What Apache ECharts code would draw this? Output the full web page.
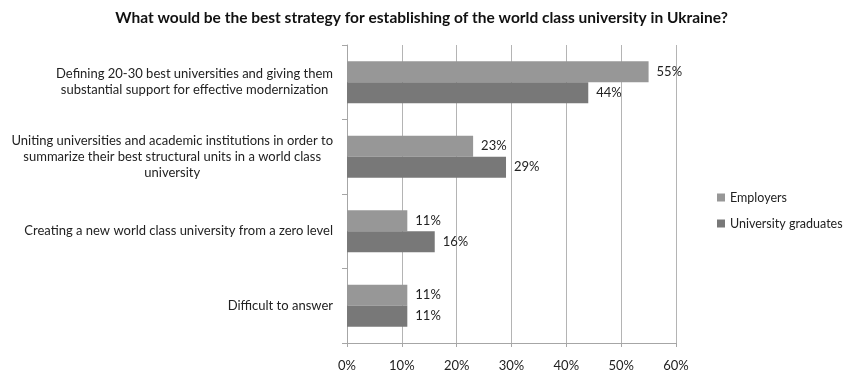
<!DOCTYPE html>
<html>
<head>
<meta charset="utf-8">
<script src="https://cdn.jsdelivr.net/npm/echarts@6/dist/echarts.min.js"></script>
<style>
  html, body { margin: 0; padding: 0; background: #fff; }
  #chart { width: 843px; height: 378px; }
</style>
</head>
<body>
<div id="chart"></div>
<script>
// Survey answers, one entry per strategy (top to bottom)
const categories = [
  'Defining 20-30 best universities and giving them\nsubstantial support for effective modernization',
  'Uniting universities and academic institutions in order to\nsummarize their best structural units in a world class\nuniversity',
  'Creating a new world class university from a zero level',
  'Difficult to answer'
];
const employers = [55, 23, 11, 11];
const graduates = [44, 29, 16, 11];
const xTicks = { min: 0, max: 60, interval: 10 };

const FONT = 'Lato, "Open Sans", "Liberation Sans", sans-serif';

const chart = echarts.init(document.getElementById('chart'), null, { renderer: 'canvas' });

chart.setOption({
  animation: false,
  backgroundColor: '#ffffff',
  textStyle: { fontFamily: FONT },
  title: {
    text: 'What would be the best strategy for establishing of the world class university in Ukraine?',
    left: 'center',
    top: 5,
    textStyle: { fontFamily: FONT, fontSize: 15.5, fontWeight: 'bold', color: '#111' }
  },
  legend: {
    orient: 'vertical',
    left: 712,
    top: 186,
    itemWidth: 8,
    itemHeight: 8,
    itemGap: 13,
    icon: 'rect',
    textStyle: { fontFamily: FONT, fontSize: 12.5, color: '#222' },
    data: ['Employers', 'University graduates']
  },
  grid: { left: 347, right: 167, top: 45, bottom: 35, containLabel: false },
  xAxis: {
    type: 'value',
    min: xTicks.min,
    max: xTicks.max,
    interval: xTicks.interval,
    axisLine: { show: true, lineStyle: { color: '#a6a6a6', width: 1 } },
    axisTick: { show: true, length: 4, lineStyle: { color: '#a6a6a6' } },
    splitLine: { show: true, lineStyle: { color: '#b4b4b4', width: 1 } },
    axisLabel: {
      formatter: '{value}%',
      margin: 16,
      fontFamily: FONT,
      fontSize: 13,
      color: '#222'
    }
  },
  yAxis: {
    type: 'category',
    inverse: true,
    data: categories,
    axisLine: { show: true, lineStyle: { color: '#a6a6a6', width: 1 } },
    axisTick: { show: true, length: 5, lineStyle: { color: '#a6a6a6' } },
    splitLine: { show: false },
    axisLabel: {
      margin: 14,
      fontFamily: FONT,
      fontSize: 13,
      color: '#222',
      lineHeight: 16,
      formatter: function (v) {
        return v.split('\n').map(function (l) { return '{c|' + l + '}'; }).join('\n');
      },
      rich: {
        c: { align: 'center', fontFamily: FONT, fontSize: 13, color: '#222', lineHeight: 16 }
      }
    }
  },
  series: [
    {
      name: 'Employers',
      type: 'bar',
      data: employers,
      barWidth: 21,
      barGap: '0%',
      itemStyle: { color: '#979797' },
      label: {
        show: true,
        position: 'right',
        distance: 8,
        formatter: '{c}%',
        fontFamily: FONT,
        fontSize: 13,
        color: '#222'
      }
    },
    {
      name: 'University graduates',
      type: 'bar',
      data: graduates,
      barWidth: 21,
      barGap: '0%',
      itemStyle: { color: '#787878' },
      label: {
        show: true,
        position: 'right',
        distance: 8,
        formatter: '{c}%',
        fontFamily: FONT,
        fontSize: 13,
        color: '#222'
      }
    }
  ]
});
</script>
</body>
</html>
